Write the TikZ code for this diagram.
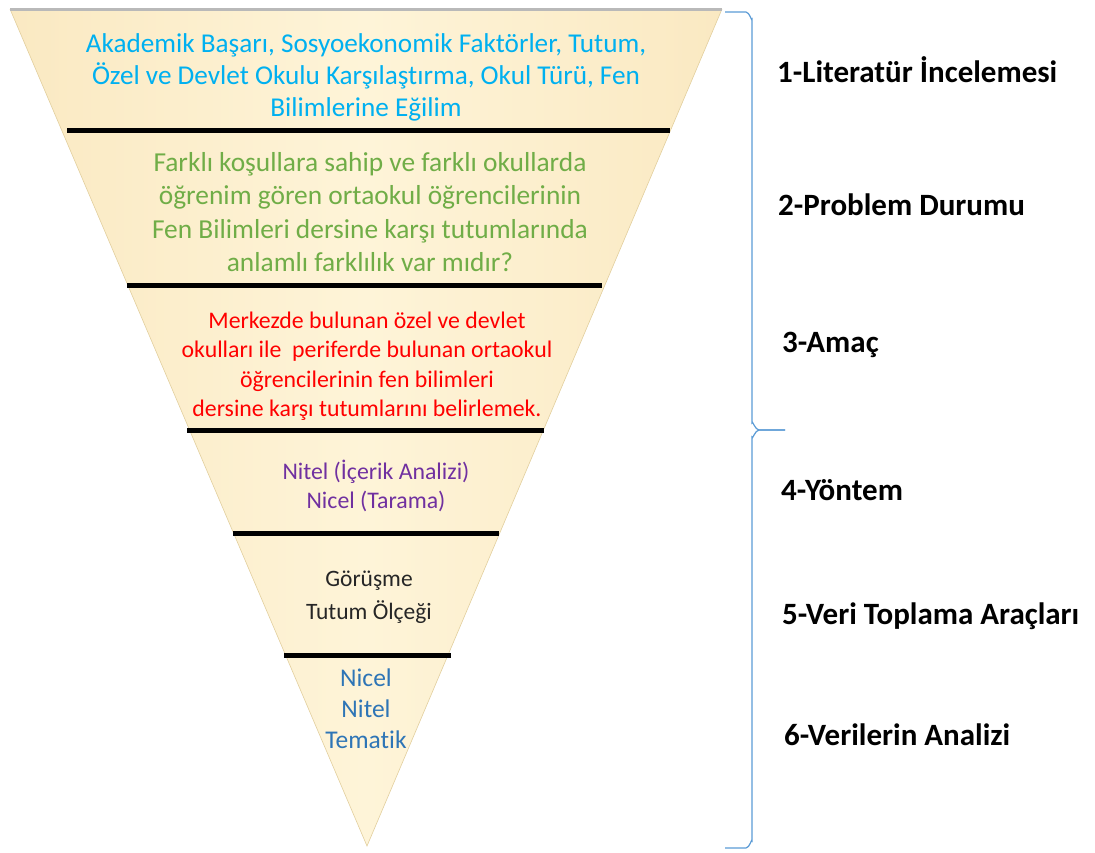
\documentclass[tikz,border=0pt]{standalone}
\usepackage{fontspec}
\setmainfont[Ligatures=NoCommon]{Carlito}
\usepackage{tikz}
\usetikzlibrary{calc}
\definecolor{funnelfill}{HTML}{FEF4D8}
\definecolor{funneledge}{HTML}{FAE9C2}
\definecolor{funnelline}{HTML}{E2CF9E}
\definecolor{litblue}{HTML}{00B0F0}
\definecolor{probgreen}{HTML}{70AD47}
\definecolor{aimred}{HTML}{FF0000}
\definecolor{methpurple}{HTML}{7030A0}
\definecolor{tooldark}{HTML}{262626}
\definecolor{anablue}{HTML}{2E75B6}
\definecolor{bracecol}{HTML}{5B9BD5}

\begin{document}
\begin{tikzpicture}[
    x=1pt, y=-1pt,
    bandtext/.style={align=center, inner sep=0pt},
    steplabel/.style={anchor=base west, inner sep=0pt, font=\fontsize{31}{37}\selectfont\bfseries},
    divider/.style={line width=5pt, black},
]
    \useasboundingbox (0,0) rectangle (1095,852);

    % Funnel
    \coordinate (tl) at (10,9);
    \coordinate (tr) at (722,9);
    \coordinate (apex) at (367,846);
    \shade[left color=funneledge, right color=funneledge, middle color=funnelfill] (tl) -- (tr) -- (apex) -- cycle;
    \draw[funnelline, line width=0.6pt] (tl) -- (apex) -- (tr);
    \draw[gray!55, line width=3pt] (tl) -- (tr);

    % Dividers
    \foreach \y/\xa/\xb in {130/67/670, 285/127/602, 430/187/544, 533/233/499, 655/284/451}
        \draw[divider] (\xa,\y) -- (\xb,\y);

    % Band texts
    \node[bandtext, text=litblue, font=\fontsize{27.2}{32}\selectfont] (lit) at (366,77)
        {Akademik Başarı, Sosyoekonomik Faktörler, Tutum,\\Özel ve Devlet Okulu Karşılaştırma, Okul Türü, Fen\\Bilimlerine Eğilim};
    \node[bandtext, text=probgreen, font=\fontsize{27.4}{33.5}\selectfont] (prob) at (370,212)
        {Farklı koşullara sahip ve farklı okullarda\\öğrenim gören ortaokul öğrencilerinin\\Fen Bilimleri dersine karşı tutumlarında\\anlamlı farklılık var mıdır?};
    \node[bandtext, text=aimred, font=\fontsize{23.8}{29.5}\selectfont] (aim) at (367,366)
        {Merkezde bulunan özel ve devlet\\okulları ile\ \ periferde bulunan ortaokul\\öğrencilerinin fen bilimleri\\dersine karşı tutumlarını belirlemek.};
    \node[bandtext, text=methpurple, font=\fontsize{23.8}{29}\selectfont] (meth) at (376,486)
        {Nitel (İçerik Analizi)\\Nicel (Tarama)};
    \node[bandtext, text=tooldark, font=\fontsize{23.5}{33}\selectfont] (tool) at (369,597)
        {Görüşme\\Tutum Ölçeği};
    \node[bandtext, text=anablue, font=\fontsize{25.5}{31}\selectfont] (ana) at (366,709)
        {Nicel\\Nitel\\Tematik};

    % Brace
    \draw[bracecol, line width=1.2pt] (725,12) -- (746,12) to[out=0, in=-90] (752,19) -- (752,423)
        to[out=90, in=180] (759,430) -- (785,430);
    \draw[bracecol, line width=1.2pt] (785,430) -- (759,430) to[out=180, in=-90] (752,437) -- (752,841)
        to[out=90, in=0] (746,848) -- (725,848);

    % Step labels
    \node[steplabel] (s1) at (777,82) {1-Literatür İncelemesi};
    \node[steplabel] (s2) at (778,215) {2-Problem Durumu};
    \node[steplabel] (s3) at (782,352) {3-Amaç};
    \node[steplabel] (s4) at (781,500) {4-Yöntem};
    \node[steplabel] (s5) at (782,624) {5-Veri Toplama Araçları};
    \node[steplabel] (s6) at (784,745) {6-Verilerin Analizi};
\end{tikzpicture}
\end{document}
